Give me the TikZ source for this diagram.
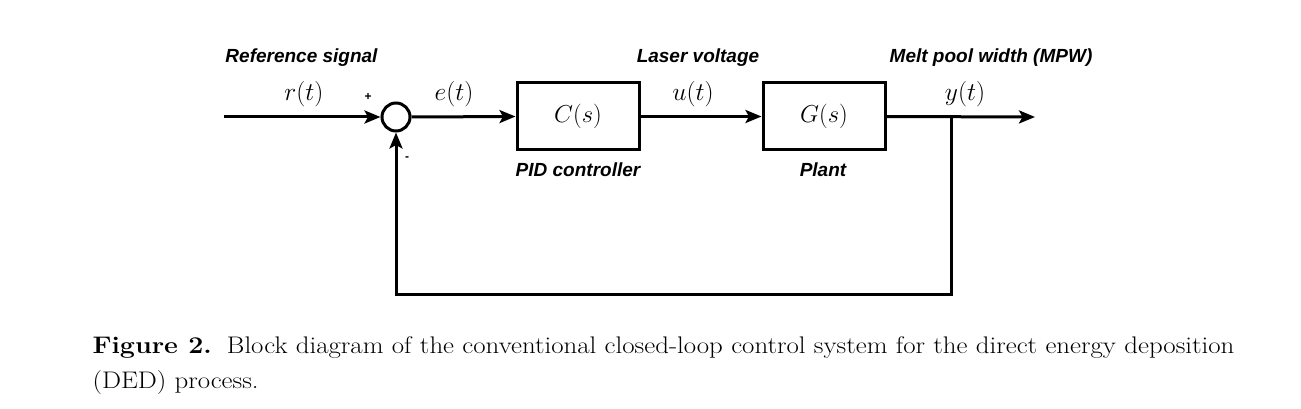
\RequirePackage{fix-cm}
\documentclass[tikz,border=0pt]{standalone}
\usepackage{fontspec}
\usepackage{graphicx}
\setsansfont{Liberation Sans}
\usetikzlibrary{arrows.meta}
\begin{document}
\begin{tikzpicture}[x=1pt,y=-1pt,
  line width=3pt,
  arr/.style={-{Stealth[length=16pt,width=13pt,inset=3.5pt]}},
  blk/.style={draw,line width=3pt,minimum width=122pt,minimum height=67pt,inner sep=0pt,font=\fontsize{24.5}{28}\selectfont},
  sumc/.style={draw,circle,line width=3pt,minimum size=28pt,inner sep=0pt},
  lbl/.style={font=\fontsize{19}{22}\selectfont\sffamily\bfseries\itshape,inner sep=0pt,anchor=base},
  mth/.style={font=\fontsize{25.5}{28}\selectfont,inner sep=0pt,anchor=base},
  sgn/.style={font=\fontsize{12}{12}\selectfont\sffamily\bfseries,inner sep=0pt},
  captxt/.style={font=\fontsize{24}{28}\selectfont,inner sep=0pt,anchor=base west},
]
\path[use as bounding box,fill=white] (0,0) rectangle (1301,409);

% blocks
\node[sumc] (sum) at (396,117) {};
\node[blk] (C) at (578,116.5) {$C(s)$};
\node[blk] (G) at (824,116.5) {$G(s)$};

\coordinate (in) at (224,117);
\coordinate (out) at (1035,117);
\coordinate (branch) at (951,117);
\coordinate (fbr) at (951,294);
\coordinate (fbl) at (396,294);

% connectors
\draw[arr] (in) -- (sum.west);
\draw[arr] (sum.east) -- (C.west);
\draw[arr] (C.east) -- (G.west);
\draw[arr] (G.east) -- (out);
\draw[arr] (branch) -- (fbr) -- (fbl) -- (sum.south);

% labels
\node[lbl] (refl) at (301.5,62.5) {Reference signal};
\node[lbl] (lasl) at (698,62.5) {Laser voltage};
\node[lbl] (mpwl) at (991,62.5) {Melt pool width (MPW)};
\node[lbl] (pidl) at (578,176.5) {PID controller};
\node[lbl] (plantl) at (823,176.5) {Plant};

\node[mth] (rt) at (304,101) {$r(t)$};
\node[mth] (et) at (454,101) {$e(t)$};
\node[mth] (ut) at (693,101) {$u(t)$};
\node[mth] (yt) at (965,101) {$y(t)$};

\node[sgn] (plus) at (368,97) {+};
\node[sgn] (minus) at (407,159) {-};

% caption
\node[captxt] (cap1) at (91,353) {\scalebox{1.12}[1]{\makebox[1019.6pt][s]{\textbf{Figure 2.}\hspace*{6pt} Block diagram of the conventional closed-loop control system for the direct energy deposition}}};
\node[captxt] (cap2) at (91,388) {\scalebox{1.12}[1]{(DED) process.}};
\end{tikzpicture}
\end{document}
